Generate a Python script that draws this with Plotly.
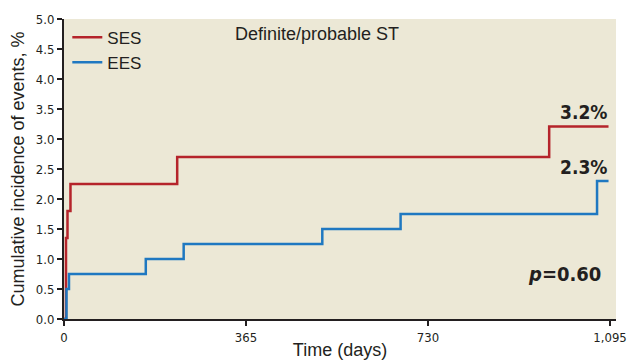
import plotly.graph_objects as go

ses_days = [0, 4, 7, 13, 227, 973, 1092]
ses_vals = [0, 1.35, 1.80, 2.25, 2.70, 3.21, 3.21]
ees_days = [0, 5, 10, 164, 240, 518, 675, 1069, 1092]
ees_vals = [0, 0.50, 0.75, 1.00, 1.25, 1.50, 1.75, 2.30, 2.30]
x_ticks = [0, 365, 730, 1095]
y_ticks = [0, 0.5, 1.0, 1.5, 2.0, 2.5, 3.0, 3.5, 4.0, 4.5, 5.0]

RED = "#b5242b"
BLUE = "#1f78c1"
BG = "#ece8d6"
INK = "#231f20"
NARROW = "DejaVu Sans Condensed, Liberation Sans Narrow, sans-serif"
SANS = "Liberation Sans, Arial, sans-serif"

fig = go.Figure()
fig.add_trace(go.Scatter(x=ses_days, y=ses_vals, mode="lines", name="SES",
                         line=dict(color=RED, width=2.5, shape="hv")))
fig.add_trace(go.Scatter(x=ees_days, y=ees_vals, mode="lines", name="EES",
                         line=dict(color=BLUE, width=2.5, shape="hv")))

fig.update_layout(
    width=627, height=360,
    margin=dict(l=64, r=11, t=19, b=41),
    paper_bgcolor="rgba(0,0,0,0)", plot_bgcolor=BG,
    showlegend=True,
    legend=dict(x=0.006, y=0.998, xanchor="left", yanchor="top",
                bgcolor="rgba(0,0,0,0)", font=dict(family=SANS, size=17, color=INK),
                tracegroupgap=0),
    xaxis=dict(range=[0, 1107], tickvals=x_ticks, tickformat=",", showgrid=False, zeroline=False,
               automargin=False,
               showline=True, linecolor=INK, linewidth=2, ticks="outside", ticklen=5,
               tickcolor=INK, tickwidth=1.5,
               tickfont=dict(family=NARROW, size=13, color=INK),
               title=dict(text="Time (days)", font=dict(family=SANS, size=18, color=INK), standoff=2)),
    yaxis=dict(range=[0, 5], tickvals=y_ticks, tickformat=".1f", showgrid=False, zeroline=False,
               automargin=False,
               showline=True, linecolor=INK, linewidth=2, ticks="outside", ticklen=5,
               tickcolor=INK, tickwidth=1.5,
               tickfont=dict(family=NARROW, size=13, color=INK),
               title=dict(text="Cumulative incidence of events, %", font=dict(family=SANS, size=18, color=INK), standoff=7)),
)

fig.add_annotation(text="Definite/probable ST", xref="paper", yref="paper", x=0.458, y=0.95,
                   showarrow=False, xanchor="center", yanchor="middle",
                   font=dict(family=SANS, size=18, color=INK))
fig.add_annotation(text="<b>3.2%</b>", x=1092, y=ses_vals[-1], xref="x", yref="y",
                   showarrow=False, xanchor="right", yanchor="bottom", yshift=1,
                   font=dict(family=NARROW, size=19, color=INK))
fig.add_annotation(text="<b>2.3%</b>", x=1092, y=ees_vals[-1], xref="x", yref="y",
                   showarrow=False, xanchor="right", yanchor="bottom", yshift=1,
                   font=dict(family=NARROW, size=19, color=INK))
fig.add_annotation(text="<b><i>p</i>=0.60</b>", x=1080, y=0.75, xref="x", yref="y",
                   showarrow=False, xanchor="right", yanchor="middle",
                   font=dict(family=NARROW, size=20, color=INK))

fig.write_html("out.html",
               config={"displayModeBar": False},
               post_script="document.body.style.margin='0';document.body.style.overflow='hidden';")
